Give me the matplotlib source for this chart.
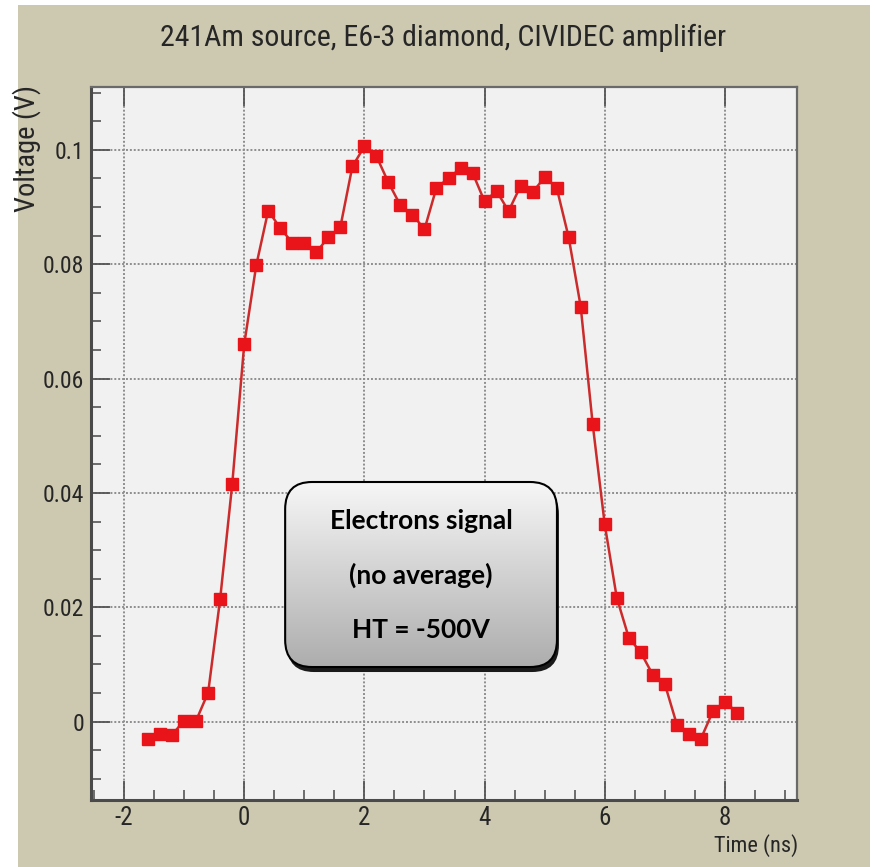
import numpy as np
import matplotlib
matplotlib.use("Agg")
import matplotlib.pyplot as plt
from matplotlib.patches import FancyBboxPatch, Rectangle
from matplotlib.ticker import MultipleLocator
import matplotlib.transforms as mtransforms

# ---- waveform, one sample every 0.2 ns ----
time_ns = [-1.6, -1.4, -1.2, -1.0, -0.8, -0.6, -0.4, -0.2, 0.0, 0.2,
           0.4, 0.6, 0.8, 1.0, 1.2, 1.4, 1.6, 1.8, 2.0, 2.2,
           2.4, 2.6, 2.8, 3.0, 3.2, 3.4, 3.6, 3.8, 4.0, 4.2,
           4.4, 4.6, 4.8, 5.0, 5.2, 5.4, 5.6, 5.8, 6.0, 6.2,
           6.4, 6.6, 6.8, 7.0, 7.2, 7.4, 7.6, 7.8, 8.0, 8.2]
voltage = [-0.0031, -0.0022, -0.0023, 0.0002, 0.0002, 0.0051, 0.0215, 0.0415, 0.0660, 0.0798,
           0.0894, 0.0863, 0.0838, 0.0838, 0.0821, 0.0847, 0.0865, 0.0971, 0.1006, 0.0989,
           0.0943, 0.0903, 0.0887, 0.0861, 0.0934, 0.0950, 0.0968, 0.0960, 0.0910, 0.0928,
           0.0893, 0.0937, 0.0926, 0.0952, 0.0934, 0.0847, 0.0726, 0.0520, 0.0345, 0.0217,
           0.0147, 0.0121, 0.0082, 0.0066, -0.0005, -0.0021, -0.0030, 0.0018, 0.0035, 0.0016]

title = "241Am source, E6-3 diamond, CIVIDEC amplifier"
box_lines = ["Electrons signal", "(no average)", "HT = -500V"]

narrow = ['Roboto Condensed', 'Liberation Sans', 'DejaVu Sans']
txt_col = '#262626'

fig = plt.figure(figsize=(8.75, 8.67), dpi=100, facecolor='white')
# khaki canvas like a ROOT pad
fig.patches.append(Rectangle((18 / 875, 0), 852 / 875, 862 / 867,
                             transform=fig.transFigure, facecolor='#cdc8b0',
                             edgecolor='none', zorder=-10))

ax = fig.add_axes([91 / 875, 67 / 867, 706 / 875, 713 / 867])
ax.set_zorder(1)
ax.set_facecolor('#f1f1f2')

ax.plot(time_ns, voltage, color='#cc2b2b', lw=1.8, marker='s', ms=8,
        mfc='#e8141a', mec='#e8141a', zorder=3)

ax.xaxis.set_major_locator(MultipleLocator(2))
ax.xaxis.set_minor_locator(MultipleLocator(0.5))
ax.yaxis.set_major_locator(MultipleLocator(0.02))
ax.yaxis.set_minor_locator(MultipleLocator(0.005))
ax.set_xticks([-2, 0, 2, 4, 6, 8])
ax.set_xticklabels(['-2', '0', '2', '4', '6', '8'])
ax.set_yticks([0, 0.02, 0.04, 0.06, 0.08, 0.1])
ax.set_yticklabels(['0', '0.02', '0.04', '0.06', '0.08', '0.1'])

ax.grid(True, which='major', color='#8e8e8e', lw=1.4, ls=(0, (1, 1)))
ax.set_axisbelow(True)

ax.tick_params(which='major', direction='in', length=14, width=1.3,
               color='#555555', top=True, labelcolor=txt_col)
ax.tick_params(which='minor', direction='in', length=7, width=1.2,
               color='#555555')
ax.tick_params(axis='x', pad=4, labelsize=18)
ax.tick_params(axis='y', pad=5, labelsize=17)
for lab in ax.get_xticklabels() + ax.get_yticklabels():
    lab.set_family(narrow)

for side in ['left', 'bottom']:
    ax.spines[side].set_color('#4a4a4a')
    ax.spines[side].set_linewidth(2.2)
for side in ['top', 'right']:
    ax.spines[side].set_color('#6a6a6a')
    ax.spines[side].set_linewidth(1.6)

fig.text(443 / 875, 1 - 38 / 867, title, ha='center', va='center',
         fontsize=21.5, color=txt_col, family=narrow)
fig.text(27 / 875, 1 - 85 / 867, "Voltage (V)", rotation=90, ha='center',
         va='top', fontsize=20.5, color=txt_col, family=narrow)
fig.text(798 / 875, 1 - 846 / 867, "Time (ns)", ha='right', va='center',
         fontsize=16, color=txt_col, family=narrow)

# annotation box with shadow and vertical gradient
bx0, by0, bw, bh = 0.275, 0.1865, 0.385, 0.2595
style = "round,pad=0,rounding_size=0.038"
shadow_tr = mtransforms.offset_copy(ax.transAxes, fig=fig, x=2, y=-5, units='dots')
shadow = FancyBboxPatch((bx0, by0), bw, bh, boxstyle=style, transform=shadow_tr,
                        facecolor='#1a1a1a', edgecolor='none', zorder=4)
ax.add_patch(shadow)
box = FancyBboxPatch((bx0, by0), bw, bh, boxstyle=style, transform=ax.transAxes,
                     facecolor='none', edgecolor='black', lw=1.5, zorder=6)
ax.add_patch(box)
grad = np.linspace(0, 1, 256).reshape(-1, 1)
img = ax.imshow(grad, cmap=matplotlib.colors.LinearSegmentedColormap.from_list(
    'boxgrey', ['#f7f7f7', '#adadad']), aspect='auto',
    extent=(bx0, bx0 + bw, by0, by0 + bh), origin='upper',
    transform=ax.transAxes, zorder=5)
img.set_clip_path(box)

for text, yy in zip(box_lines, [0.391, 0.3156, 0.2384]):
    ax.text(bx0 + bw / 2, yy, text, transform=ax.transAxes, ha='center',
            va='center', fontsize=19, fontweight='bold', color='black',
            family=['Lato', 'DejaVu Sans'], zorder=7)

ax.set_xlim(-2.55, 9.2)
ax.set_ylim(-0.0137, 0.111)

fig.savefig('out.png', dpi=100, facecolor=fig.get_facecolor())
